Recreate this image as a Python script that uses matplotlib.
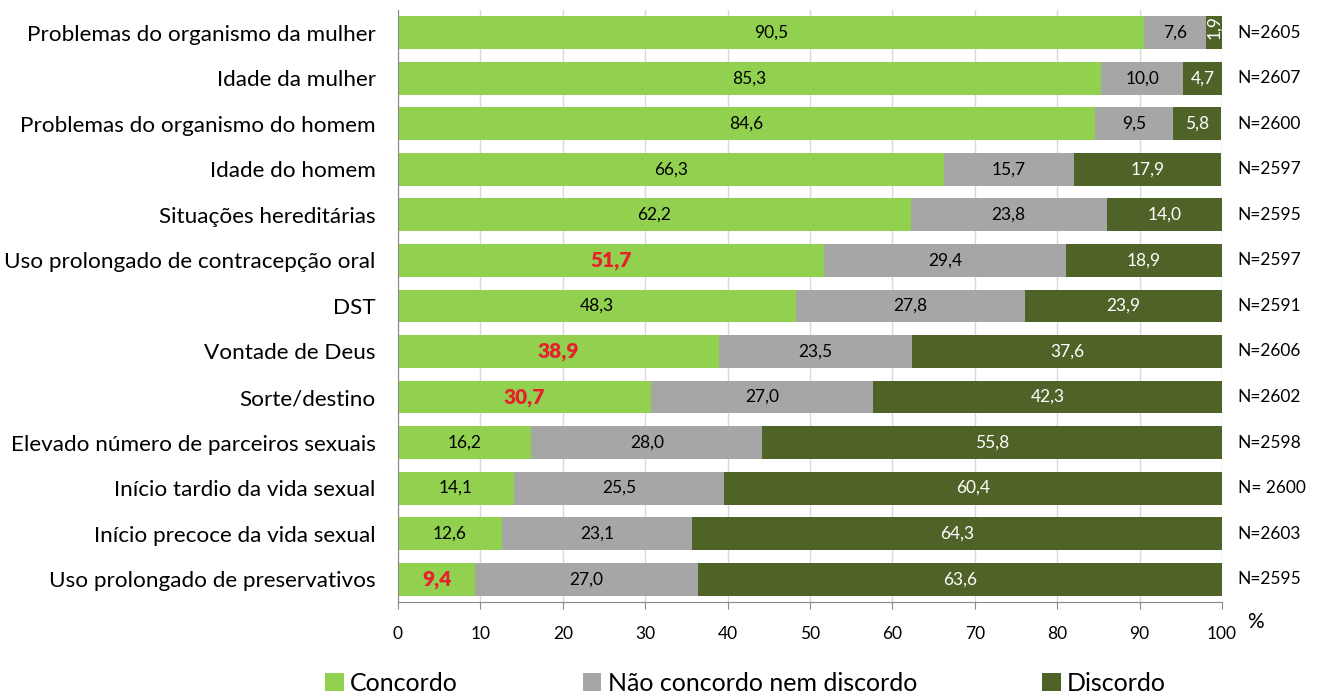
import matplotlib.pyplot as plt
import numpy as np

plt.rcParams['font.family'] = ['Lato', 'DejaVu Sans']

categories = [
    "Problemas do organismo da mulher",
    "Idade da mulher",
    "Problemas do organismo do homem",
    "Idade do homem",
    "Situações hereditárias",
    "Uso prolongado de contracepção oral",
    "DST",
    "Vontade de Deus",
    "Sorte/destino",
    "Elevado número de parceiros sexuais",
    "Início tardio da vida sexual",
    "Início precoce da vida sexual",
    "Uso prolongado de preservativos",
]
concordo = [90.5, 85.3, 84.6, 66.3, 62.2, 51.7, 48.3, 38.9, 30.7, 16.2, 14.1, 12.6, 9.4]
neutro = [7.6, 10.0, 9.5, 15.7, 23.8, 29.4, 27.8, 23.5, 27.0, 28.0, 25.5, 23.1, 27.0]
discordo = [1.9, 4.7, 5.8, 17.9, 14.0, 18.9, 23.9, 37.6, 42.3, 55.8, 60.4, 64.3, 63.6]
n_labels = ["N=2605", "N=2607", "N=2600", "N=2597", "N=2595", "N=2597", "N=2591",
            "N=2606", "N=2602", "N=2598", "N= 2600", "N=2603", "N=2595"]
# rows whose "concordo" value is highlighted in red
highlight = [5, 7, 8, 12]

C_GREEN = '#92D050'
C_GRAY = '#A6A6A6'
C_DARK = '#4F6228'
C_RED = '#E8202E'

fig = plt.figure(figsize=(13.17, 7.0), dpi=100)
ax = fig.add_axes([0.3022, 0.14, 0.6257, 0.846])

y = np.arange(len(categories))
c = np.array(concordo)
n = np.array(neutro)
d = np.array(discordo)
h = 0.72

ax.barh(y, c, height=h, color=C_GREEN, label='Concordo', zorder=2)
ax.barh(y, n, left=c, height=h, color=C_GRAY, label='Não concordo nem discordo', zorder=2)
ax.barh(y, d, left=c + n, height=h, color=C_DARK, label='Discordo', zorder=2)

def fmt(v):
    return ('%.1f' % v).replace('.', ',')

fs = 12.5
for i in y:
    if i in highlight:
        ax.text(c[i] / 2, i, fmt(c[i]), ha='center', va='center', fontsize=15,
                color=C_RED, fontweight='heavy', zorder=3)
    else:
        ax.text(c[i] / 2, i, fmt(c[i]), ha='center', va='center', fontsize=fs,
                color='black', zorder=3)
    ax.text(c[i] + n[i] / 2, i, fmt(n[i]), ha='center', va='center', fontsize=fs,
            color='black', zorder=3)
    if d[i] < 3:
        # too narrow for a horizontal label
        ax.text(c[i] + n[i] + d[i] / 2, i - 0.12, fmt(d[i]), ha='center', va='center',
                fontsize=fs, color='white', rotation=90, zorder=3)
    else:
        ax.text(c[i] + n[i] + d[i] / 2, i, fmt(d[i]), ha='center', va='center',
                fontsize=fs, color='white', zorder=3)
    ax.text(101.9, i, n_labels[i], ha='left', va='center', fontsize=fs)

ax.set_xlim(0, 100)
ax.set_ylim(12.5, -0.5)
ax.set_xticks(np.arange(0, 101, 10))
ax.tick_params(axis='x', labelsize=fs, length=5, color='#888888', pad=12)
ax.set_yticks(y)
ax.set_yticklabels(categories, fontsize=16.2)
ax.tick_params(axis='y', length=0, pad=16)
ax.grid(axis='x', color='#D9D9D9', linewidth=1, zorder=0)
for s in ['top', 'right']:
    ax.spines[s].set_visible(False)
ax.spines['left'].set_color('#888888')
ax.spines['bottom'].set_color('#888888')
ax.text(103.0, 12.94, '%', ha='left', va='center', fontsize=15)

fig.legend(loc='lower center', bbox_to_anchor=(0.566, -0.025), ncol=3, frameon=False,
           fontsize=18, handlelength=0.75, handleheight=0.75, handletextpad=0.25,
           columnspacing=5.0)

fig.savefig('out.png', dpi=100)
